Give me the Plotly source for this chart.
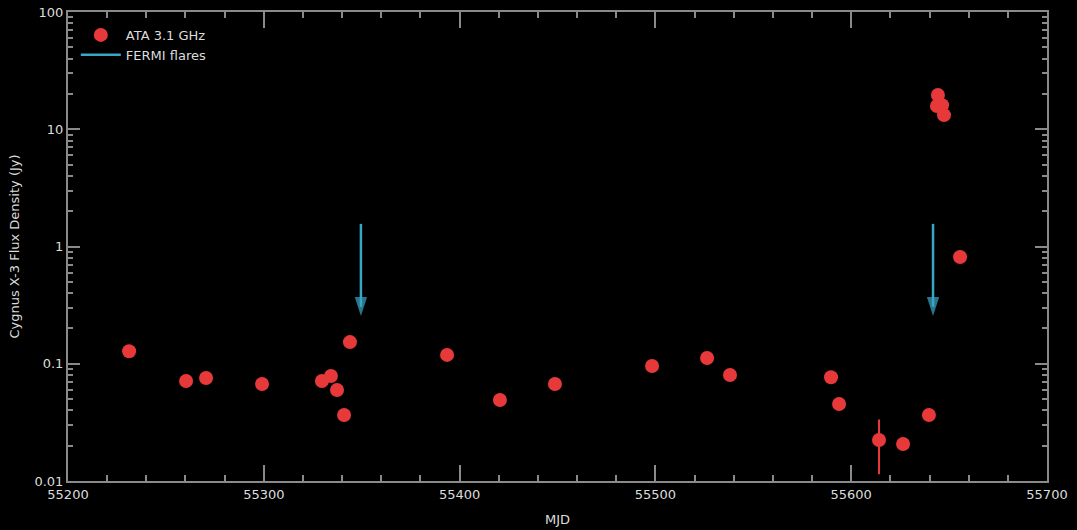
import plotly.graph_objects as go

# ATA 3.1 GHz observations
ata_mjd = [55231.2, 55260.3, 55270.5, 55299.1, 55329.7, 55334.3, 55337.4, 55341.0,
           55344.0, 55393.6, 55420.6, 55448.7, 55498.3, 55526.4, 55538.1, 55589.7,
           55593.8, 55614.2, 55626.5, 55639.7, 55643.8, 55644.3, 55646.4, 55647.4,
           55655.6]
ata_flux = [0.128, 0.0713, 0.0755, 0.0672, 0.0713, 0.0787, 0.0597, 0.0366,
            0.153, 0.119, 0.049, 0.0672, 0.0957, 0.112, 0.0802, 0.0767,
            0.0454, 0.0224, 0.0207, 0.0366, 15.8, 19.6, 16.0, 13.2,
            0.813]
ata_err = [0.002, 0.001, 0.001, 0.001, 0.001, 0.001, 0.001, 0.001,
           0.002, 0.002, 0.001, 0.001, 0.002, 0.002, 0.001, 0.001,
           0.001, 0.011, 0.001, 0.001, 0.2, 0.2, 0.2, 0.2,
           0.01]

# FERMI flares (arrow positions)
fermi_mjd = [55349.6, 55641.8]
fermi_top = [1.56, 1.56]
fermi_tip = [0.255, 0.255]

red = "#e8393a"
cyan = "#3aa6c6"
axis_col = "#8a8a8a"
txt_col = "#dcdcdc"
font = "DejaVu Sans"

fig = go.Figure()

fig.add_trace(go.Scatter(
    x=ata_mjd, y=ata_flux, mode="markers", name="ATA 3.1 GHz",
    marker=dict(color=red, size=14, line=dict(width=0)),
    error_y=dict(type="data", array=ata_err, visible=True, color=red, thickness=2, width=0),
))

# arrow shafts
sx, sy = [], []
for m, t, b in zip(fermi_mjd, fermi_top, fermi_tip):
    sx += [m, m, None]
    sy += [t, b * 1.2, None]
fig.add_trace(go.Scatter(
    x=sx, y=sy, mode="lines", name="FERMI flares",
    line=dict(color=cyan, width=2.5),
))
# arrow heads
fig.add_trace(go.Scatter(
    x=fermi_mjd, y=fermi_tip, mode="markers", showlegend=False,
    marker=dict(symbol="arrow", angle=180, color=cyan, size=[20, 20], line=dict(width=0)),
    hoverinfo="skip",
))

fig.update_layout(
    width=1077, height=530,
    paper_bgcolor="black", plot_bgcolor="black",
    margin=dict(l=68, r=30, t=12, b=49),
    font=dict(family=font, size=13, color=txt_col),
    showlegend=True,
    legend=dict(x=0.008, y=0.983, xanchor="left", yanchor="top",
                bgcolor="rgba(0,0,0,0)", font=dict(size=13, color=txt_col),
                itemwidth=40, tracegroupgap=0),
)

fig.update_xaxes(
    range=[55200, 55700], showgrid=False, zeroline=False, automargin=False,
    showline=True, linecolor=axis_col, linewidth=2, mirror="allticks",
    ticks="inside", ticklen=16, tickwidth=1.5, tickcolor=axis_col,
    dtick=100, tick0=55200, tickformat="d",
    tickfont=dict(size=13, color=txt_col, family=font),
    minor=dict(ticks="inside", ticklen=6, tickwidth=1.5, tickcolor=axis_col, dtick=20, showgrid=False),
    title=dict(text="MJD", font=dict(size=13, color=txt_col, family=font), standoff=14),
)
fig.update_yaxes(
    type="log", range=[-2, 2], showgrid=False, zeroline=False, automargin=False,
    showline=True, linecolor=axis_col, linewidth=2, mirror="allticks",
    ticks="inside", ticklen=12, tickwidth=1.5, tickcolor=axis_col,
    tickvals=[0.01, 0.1, 1, 10, 100], ticktext=["0.01", "0.1", "1", "10", "100"],
    tickfont=dict(size=13, color=txt_col, family=font),
    minor=dict(ticks="inside", ticklen=5, tickwidth=1.5, tickcolor=axis_col,
               tickvals=[k * 10 ** e for e in range(-2, 2) for k in range(2, 10)], showgrid=False),
    title=dict(text="Cygnus X-3 Flux Density (Jy)", font=dict(size=13, color=txt_col, family=font), standoff=12),
)

fig.write_html("out.html")
